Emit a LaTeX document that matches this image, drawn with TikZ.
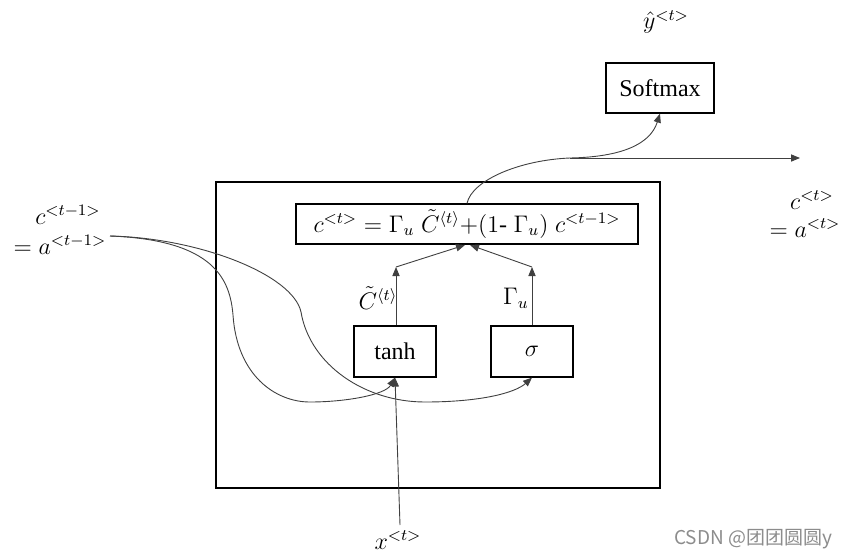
\documentclass[tikz,border=0pt]{standalone}
\usepackage{fontspec}
\setmainfont{Liberation Serif}
\newfontfamily\cjk{Noto Sans CJK SC}
\usetikzlibrary{arrows.meta}
\begin{document}
\begin{tikzpicture}[x=0.5pt,y=-0.5pt,
  font=\fontsize{12}{14}\selectfont,
  box/.style={draw, line width=0.6pt, inner sep=0pt},
  conn/.style={draw=black!75, line width=0.45pt},
  arr/.style={conn, -{Triangle[length=4.5pt,width=3.6pt]}},
  lbl/.style={inner sep=0pt}]
\useasboundingbox (0,0) rectangle (847,558);
% outer cell box
\draw[line width=0.6pt] (216,182) rectangle (660,488);
% nodes
\node[box, minimum width=171pt, minimum height=20pt] (eq) at (467,224)
  {$c^{<t>} = \Gamma_u\;\tilde{C}^{\langle t\rangle}{+}(1\mbox{-}\;\Gamma_u)\;c^{<t-1>}$};
\node[box, minimum width=54pt, minimum height=25pt] (soft) at (660,88) {Softmax};
\node[box, minimum width=41pt, minimum height=25.5pt] (tanh) at (395,351.5) {tanh};
\node[box, minimum width=41pt, minimum height=25.5pt] (sig) at (532,351.5) {$\sigma$};
% labels
\node[lbl] (yhat) at (666,22) {$\hat{y}^{<t>}$};
\node[lbl] (cin) at (68,215) {$c^{<t-1>}$};
\node[lbl] (ain) at (60,245) {$=a^{<t-1>}$};
\node[lbl] (cout) at (812,200) {$c^{<t>}$};
\node[lbl] (aout) at (805,228) {$=a^{<t>}$};
\node[lbl] (x) at (398,540) {$x^{<t>}$};
\node[lbl] (ct) at (378,298) {$\tilde{C}^{\langle t\rangle}$};
\node[lbl] (gu) at (516,298) {$\Gamma_u$};
\node[lbl, font=\cjk\fontsize{9.5}{11}\selectfont, text=black!45] (wm) at (753,539) {CSDN @团团圆圆y};
% coordinates
\coordinate (s) at (110,236);
\coordinate (jt) at (396,267);
\coordinate (js) at (532,267);
\coordinate (et) at (465,245);
\coordinate (es) at (470,245);
\coordinate (split) at (570,158);
\coordinate (out) at (800,158);
\coordinate (xb) at (400,525);
% connectors
\draw[arr] (tanh.north -| jt) -- (jt);
\draw[arr] (jt) -- (et);
\draw[arr] (sig.north -| js) -- (js);
\draw[arr] (js) -- (es);
\draw[arr] (xb) -- (tanh.south);
\draw[conn] (eq.north) .. controls (472,180) and (520,160) .. (split);
\draw[arr] (split) .. controls (620,157) and (650,145) .. (soft.south);
\draw[arr] (split) -- (out);
\draw[arr] (s) .. controls (215,240) and (230,280) .. (233,315)
  .. controls (237,375) and (275,402) .. (310,402)
  .. controls (345,402) and (385,395) .. (tanh.south);
\draw[arr] (s) .. controls (200,238) and (293,275) .. (301,312)
  .. controls (310,365) and (365,402) .. (425,402)
  .. controls (480,402) and (515,393) .. (sig.south);
\end{tikzpicture}
\end{document}
